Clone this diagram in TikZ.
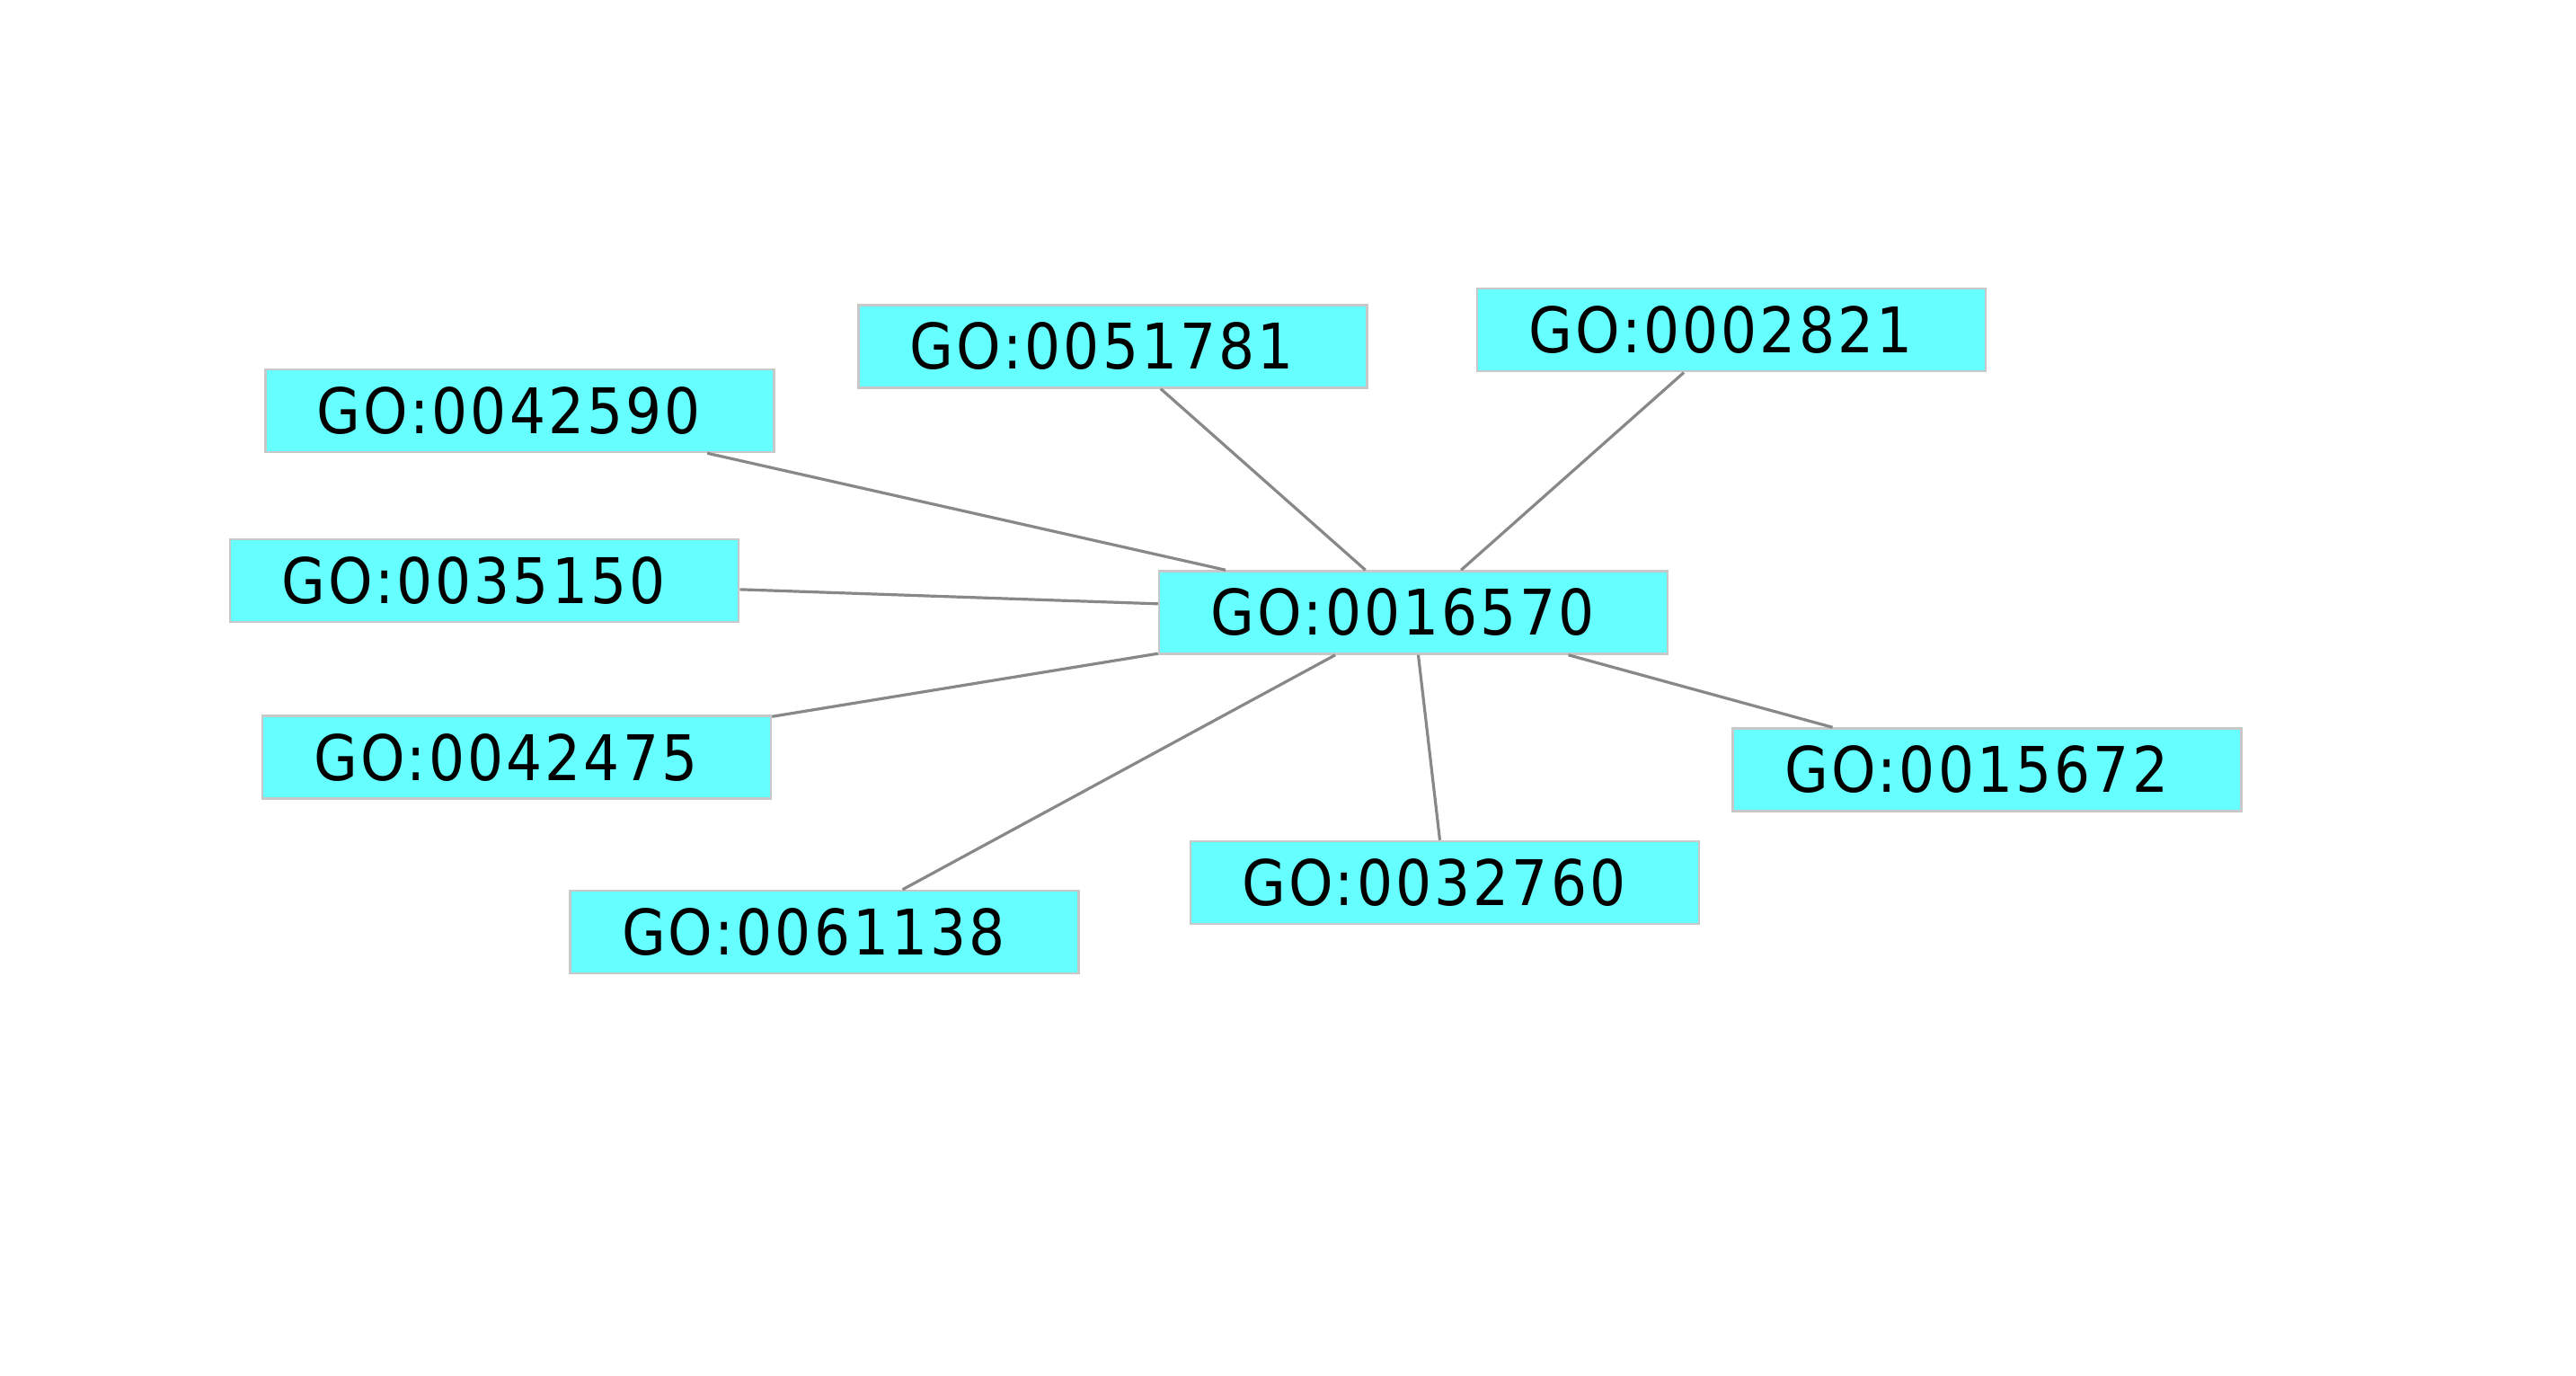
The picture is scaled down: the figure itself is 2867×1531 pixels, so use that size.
\documentclass[tikz,border=0pt]{standalone}
\usepackage{fontspec}
\setmainfont{DejaVu Sans Condensed}[LetterSpace=4.5]
\definecolor{gofill}{HTML}{66FFFF}
\definecolor{goborder}{HTML}{C8C8C8}
\definecolor{goedge}{HTML}{888888}
\begin{document}
\begin{tikzpicture}[x=1pt,y=-1pt,
  gonode/.style={rectangle, fill=gofill, draw=goborder, line width=2.5pt,
    minimum width=566pt, minimum height=92pt, inner sep=0pt,
    font=\fontsize{70}{84}\selectfont},
  goedgeline/.style={draw=goedge, line width=3.2pt}]
\useasboundingbox (0,0) rectangle (2867,1531);
\newcommand{\golab}[1]{#1\kern24pt}
\node[gonode] (c) at (1573,681.5) {\golab{GO:0016570}};
\node[gonode] (n1) at (578.5,457) {\golab{GO:0042590}};
\node[gonode] (n2) at (1238.5,385.3) {\golab{GO:0051781}};
\node[gonode] (n3) at (1927.2,367.2) {\golab{GO:0002821}};
\node[gonode] (n4) at (539.2,646.2) {\golab{GO:0035150}};
\node[gonode] (n5) at (575,842.7) {\golab{GO:0042475}};
\node[gonode] (n6) at (917.6,1037) {\golab{GO:0061138}};
\node[gonode] (n7) at (1608,982) {\golab{GO:0032760}};
\node[gonode] (n8) at (2211.7,856.5) {\golab{GO:0015672}};
\foreach \n in {n1,n2,n3,n4,n5,n6,n7,n8}
  \draw[goedgeline] (c) -- (\n);
\end{tikzpicture}
\end{document}
